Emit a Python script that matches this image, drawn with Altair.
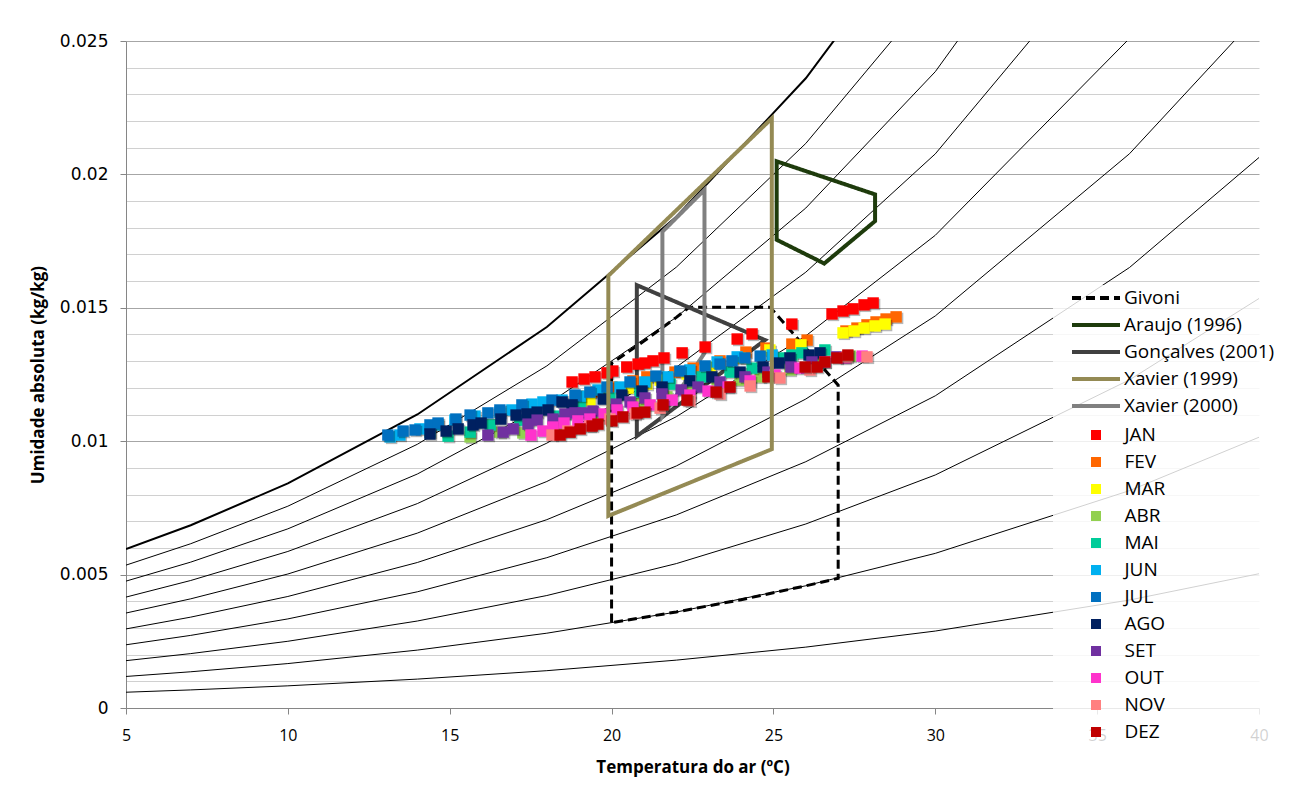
import altair as alt
import pandas as pd

# ---------------- relative-humidity curves ----------------
RH_T = [5, 7, 10, 14, 18, 22, 26, 30, 36, 40]
RH_100 = [0.005956, 0.006850, 0.008416, 0.011002, 0.014280, 0.018413, 0.023602, 0.030101, 0.042985, 0.054288]
RH_90 = [0.005355, 0.006158, 0.007564, 0.009884, 0.012822, 0.016523, 0.021161, 0.026960, 0.038422, 0.048436]
RH_80 = [0.004756, 0.005468, 0.006715, 0.008770, 0.011371, 0.014644, 0.018739, 0.023850, 0.033920, 0.042685]
RH_70 = [0.004157, 0.004779, 0.005867, 0.007661, 0.009927, 0.012776, 0.016335, 0.020769, 0.029479, 0.037032]
RH_60 = [0.003560, 0.004092, 0.005022, 0.006555, 0.008490, 0.010919, 0.013949, 0.017718, 0.025098, 0.031474]
RH_50 = [0.002964, 0.003406, 0.004180, 0.005453, 0.007059, 0.009072, 0.011581, 0.014695, 0.020775, 0.026008]
RH_40 = [0.002369, 0.002722, 0.003339, 0.004355, 0.005634, 0.007237, 0.009231, 0.011701, 0.016510, 0.020634]
RH_30 = [0.001775, 0.002039, 0.002501, 0.003260, 0.004216, 0.005412, 0.006897, 0.008734, 0.012300, 0.015349]
RH_20 = [0.001182, 0.001358, 0.001665, 0.002170, 0.002804, 0.003597, 0.004581, 0.005796, 0.008147, 0.010149]
RH_10 = [0.000591, 0.000678, 0.000831, 0.001083, 0.001399, 0.001794, 0.002282, 0.002884, 0.004047, 0.005033]

# ---------------- comfort zones ----------------
ZONE_NAMES = ["Givoni", "Araujo (1996)", "Gonçalves (2001)", "Xavier (1999)", "Xavier (2000)"]
ZONE_COLORS = ["#000000", "#1e3b0c", "#404040", "#948a54", "#808080"]
ZONE_DASH = [[9, 5], [1, 0], [1, 0], [1, 0], [1, 0]]

GIVONI_T = [20.0, 20.0, 21.0, 22.0, 22.4, 24.9, 27.0, 27.0, 26.0, 24.0, 22.0]
GIVONI_W = [0.0032, 0.01292, 0.01375, 0.01464, 0.01502, 0.01502, 0.0121, 0.00486, 0.00458, 0.00406, 0.00360]
ARAUJO_T = [25.10, 28.14, 28.14, 26.57, 25.10]
ARAUJO_W = [0.02049, 0.01925, 0.01825, 0.01666, 0.01755]
GONCALVES_T = [20.78, 24.74, 20.78]
GONCALVES_W = [0.01585, 0.01379, 0.01019]
XAVIER99_T = [19.9, 19.9, 24.95, 24.95]
XAVIER99_W = [0.0072, 0.0162, 0.0221, 0.0097]
XAVIER00_T = [21.57, 21.57, 22.87, 22.87]
XAVIER00_W = [0.01094, 0.01785, 0.01942, 0.0133]

# ---------------- monthly hourly points ----------------
MONTHS = ["JAN", "FEV", "MAR", "ABR", "MAI", "JUN", "JUL", "AGO", "SET", "OUT", "NOV", "DEZ"]
MONTH_COLORS = ["#ff0000", "#ff6600", "#ffff00", "#92d050", "#00cc99", "#00b0f0",
                "#0070c0", "#002060", "#7030a0", "#ff33cc", "#ff8080", "#c00000"]

JAN_T = [18.78, 19.15, 19.49, 19.86, 20.04, 20.47, 20.82, 21.03, 21.28, 21.62, 22.18, 22.89, 23.88, 24.34, 25.57, 26.81, 27.15, 27.46, 27.80, 28.08]
JAN_W = [0.01222, 0.01233, 0.01241, 0.01256, 0.01263, 0.01278, 0.01289, 0.01293, 0.01301, 0.01312, 0.01331, 0.01353, 0.01383, 0.01402, 0.01439, 0.01477, 0.01488, 0.01496, 0.01511, 0.01518]
FEV_T = [18.96, 19.52, 20.01, 20.66, 21.09, 21.96, 22.52, 23.35, 24.15, 24.77, 25.57, 26.04, 27.24, 27.58, 27.89, 28.17, 28.48, 28.79]
FEV_W = [0.01169, 0.01184, 0.01203, 0.01226, 0.01241, 0.01259, 0.01274, 0.01301, 0.01334, 0.01349, 0.01364, 0.01379, 0.01413, 0.01424, 0.01436, 0.01447, 0.01458, 0.01466]
MAR_T = [18.90, 19.33, 19.77, 20.51, 21.09, 21.50, 22.33, 23.04, 23.97, 24.89, 25.85, 27.15, 27.49, 27.80, 28.14, 28.45]
MAR_W = [0.01151, 0.01154, 0.01169, 0.01199, 0.01214, 0.01229, 0.01252, 0.01278, 0.01312, 0.01342, 0.01361, 0.01406, 0.01413, 0.01424, 0.01432, 0.01439]
ABR_T = [15.63, 16.55, 17.26, 18.41, 19.64, 20.88, 21.71, 22.42, 23.26, 23.97, 24.59, 25.51, 26.44, 27.37]
ABR_W = [0.01016, 0.01034, 0.01031, 0.01061, 0.01098, 0.01143, 0.01166, 0.01184, 0.01214, 0.01229, 0.01241, 0.01267, 0.01297, 0.01319]
MAI_T = [14.39, 14.95, 15.63, 16.25, 17.17, 18.25, 19.03, 19.95, 20.88, 21.81, 22.79, 23.66, 24.34, 25.20, 25.57, 25.88, 26.59]
MAI_W = [0.01034, 0.01019, 0.01034, 0.01061, 0.01079, 0.01094, 0.01143, 0.01162, 0.01184, 0.01214, 0.01241, 0.01259, 0.01274, 0.01312, 0.01323, 0.01331, 0.01342]
JUN_T = [13.16, 13.46, 14.08, 14.64, 15.16, 15.78, 16.55, 16.92, 17.54, 17.88, 18.47, 19.03, 19.58, 20.26, 21.03, 21.74, 22.42, 23.26, 23.88, 24.96]
JUN_W = [0.01016, 0.01023, 0.01046, 0.01061, 0.01079, 0.01094, 0.01109, 0.01117, 0.01139, 0.01147, 0.01154, 0.01169, 0.01192, 0.01203, 0.01222, 0.01241, 0.01267, 0.01297, 0.01316, 0.01323]
JUL_T = [13.09, 13.56, 13.93, 14.39, 14.64, 15.19, 15.63, 16.18, 16.55, 17.23, 18.16, 18.87, 19.33, 19.86, 20.57, 21.37, 22.11, 22.89, 23.35, 23.72, 24.12, 24.59]
JUL_W = [0.01023, 0.01038, 0.01042, 0.01061, 0.01068, 0.01083, 0.01098, 0.01106, 0.01117, 0.01136, 0.01154, 0.01173, 0.01184, 0.01203, 0.01222, 0.01244, 0.01263, 0.01282, 0.01289, 0.01301, 0.01312, 0.01319]
AGO_T = [14.39, 14.89, 15.26, 15.72, 15.97, 16.58, 17.05, 17.39, 17.70, 18.04, 18.47, 18.78, 19.74, 20.32, 20.94, 21.56, 22.42, 23.10, 23.97, 24.68, 25.17, 25.51, 26.10, 26.44]
AGO_W = [0.01027, 0.01038, 0.01046, 0.01061, 0.01068, 0.01083, 0.01098, 0.01102, 0.01109, 0.01117, 0.01147, 0.01136, 0.01158, 0.01173, 0.01188, 0.01203, 0.01226, 0.01241, 0.01259, 0.01278, 0.01293, 0.01312, 0.01323, 0.01331]
SET_T = [16.18, 16.65, 16.96, 17.42, 17.70, 18.19, 18.56, 18.87, 19.12, 19.43, 20.14, 20.57, 21.03, 21.56, 22.15, 22.67, 23.35, 24.12, 24.83, 25.54, 26.19, 26.96]
SET_W = [0.01023, 0.01034, 0.01046, 0.01064, 0.01079, 0.01083, 0.01102, 0.01106, 0.01106, 0.01113, 0.01139, 0.01147, 0.01162, 0.01177, 0.01192, 0.01203, 0.01222, 0.01241, 0.01259, 0.01278, 0.01297, 0.01316]
OUT_T = [17.51, 17.88, 18.19, 18.53, 18.96, 19.33, 19.77, 20.17, 20.66, 21.19, 21.87, 22.42, 22.98, 23.60, 24.28, 25.05, 25.82, 26.59, 27.21, 27.74]
OUT_W = [0.01023, 0.01038, 0.01053, 0.01068, 0.01076, 0.01083, 0.01102, 0.01117, 0.01128, 0.01136, 0.01154, 0.01173, 0.01188, 0.01203, 0.01226, 0.01248, 0.01274, 0.01297, 0.01312, 0.01319]
NOV_T = [18.16, 18.65, 19.33, 19.95, 20.72, 21.50, 22.42, 23.35, 24.28, 25.20, 26.13, 27.27, 27.89]
NOV_W = [0.01023, 0.01038, 0.01057, 0.01083, 0.01102, 0.01124, 0.01151, 0.01177, 0.01207, 0.01237, 0.01267, 0.01316, 0.01316]
DEZ_T = [18.41, 18.72, 19.03, 19.40, 19.58, 20.01, 20.35, 20.79, 21.03, 21.59, 22.33, 23.23, 23.66, 24.83, 25.98, 26.35, 26.59, 26.96, 27.30]
DEZ_W = [0.01023, 0.01034, 0.01046, 0.01057, 0.01064, 0.01076, 0.01091, 0.01106, 0.01109, 0.01136, 0.01154, 0.01184, 0.01203, 0.01241, 0.01278, 0.01278, 0.01297, 0.01312, 0.01323]

X_TICKS = [5, 10, 15, 20, 25, 30, 35, 40]
Y_TICKS = [0.0, 0.001, 0.002, 0.003, 0.004, 0.005, 0.006, 0.007, 0.008, 0.009, 0.010,
           0.011, 0.012, 0.013, 0.014, 0.015, 0.016, 0.017, 0.018, 0.019, 0.020,
           0.021, 0.022, 0.023, 0.024, 0.025]

# ---------------- tables ----------------
rh_sets = [("10", RH_10), ("20", RH_20), ("30", RH_30), ("40", RH_40), ("50", RH_50),
           ("60", RH_60), ("70", RH_70), ("80", RH_80), ("90", RH_90)]
rh_rows = []
for name, ws in rh_sets:
    for k, (t, w) in enumerate(zip(RH_T, ws)):
        rh_rows.append({"curve": name, "i": k, "T": t, "W": w})
rh_df = pd.DataFrame(rh_rows)
rh_top_df = pd.DataFrame({"curve": "100", "i": list(range(len(RH_T))), "T": RH_T, "W": RH_100})

zone_data = {
    "Givoni": (GIVONI_T, GIVONI_W),
    "Araujo (1996)": (ARAUJO_T, ARAUJO_W),
    "Gonçalves (2001)": (GONCALVES_T, GONCALVES_W),
    "Xavier (1999)": (XAVIER99_T, XAVIER99_W),
    "Xavier (2000)": (XAVIER00_T, XAVIER00_W),
}


def zone_df(name):
    ts, ws = zone_data[name]
    return pd.DataFrame({"series": name, "i": list(range(len(ts))), "T": ts, "W": ws})


month_data = {
    "JAN": (JAN_T, JAN_W), "FEV": (FEV_T, FEV_W), "MAR": (MAR_T, MAR_W), "ABR": (ABR_T, ABR_W),
    "MAI": (MAI_T, MAI_W), "JUN": (JUN_T, JUN_W), "JUL": (JUL_T, JUL_W), "AGO": (AGO_T, AGO_W),
    "SET": (SET_T, SET_W), "OUT": (OUT_T, OUT_W), "NOV": (NOV_T, NOV_W), "DEZ": (DEZ_T, DEZ_W),
}

# ---------------- encodings ----------------
MAJOR = "abs(datum.value * 200 - round(datum.value * 200)) < 0.01"

x_enc = alt.X("T:Q", scale=alt.Scale(domain=[5, 40], nice=False, zero=False),
              axis=alt.Axis(values=X_TICKS, title="Temperatura do ar (ºC)", grid=False,
                            tickSize=6, tickColor="#868686", domainColor="#868686",
                            labelFont="Open Sans", labelFontSize=16, labelColor="#000000",
                            labelPadding=13, labelFlush=False,
                            titleFont="Open Sans", titleFontSize=17, titleFontWeight="bold",
                            titleColor="#000000", titlePadding=16))
y_enc = alt.Y("W:Q", scale=alt.Scale(domain=[0, 0.025], nice=False, zero=True),
              axis=alt.Axis(values=Y_TICKS, title="Umidade absoluta (kg/kg)", grid=True,
                            gridColor={"condition": {"test": MAJOR, "value": "#a6a6a6"}, "value": "#d0d0d0"},
                            gridWidth=1,
                            tickColor={"condition": {"test": MAJOR, "value": "#868686"}, "value": "transparent"},
                            tickSize=6, domainColor="#868686",
                            labelExpr=MAJOR + " ? format(datum.value, '~g') : ''",
                            labelFont="DejaVu Sans", labelFontSize=17, labelColor="#000000",
                            labelPadding=12, labelOverlap=False,
                            titleFont="Open Sans", titleFontSize=17, titleFontWeight="bold",
                            titleColor="#000000", titlePadding=12))

legend_lines = alt.Legend(title=None, orient="none", legendX=927, legendY=244,
                          fillColor="rgba(255,255,255,0.82)", padding=5, rowPadding=8,
                          clipHeight=16, symbolType="stroke", symbolSize=2304,
                          symbolStrokeWidth=4, symbolOffset=12, labelOffset=2,
                          labelFont="Open Sans", labelFontSize=19, labelColor="#000000",
                          labelLimit=400)
# blank braille cells widen the month box to about the width of the line box
legend_months = alt.Legend(title=None, orient="none", legendX=927, legendY=381,
                           fillColor="rgba(255,255,255,0.82)", padding=5, rowPadding=8,
                           clipHeight=16, symbolType="square", symbolSize=100,
                           symbolStrokeWidth=0, symbolOffset=28.5, labelOffset=19,
                           labelFont="Open Sans", labelFontSize=19, labelColor="#000000",
                           labelLimit=400,
                           labelExpr="datum.label + '\u2800\u2800\u2800\u2800\u2800\u2800\u2800\u2800'")

stroke_enc = alt.Stroke("series:N", scale=alt.Scale(domain=ZONE_NAMES, range=ZONE_COLORS),
                        legend=legend_lines)
dash_enc = alt.StrokeDash("series:N", scale=alt.Scale(domain=ZONE_NAMES, range=ZONE_DASH),
                          legend=legend_lines)
fill_enc = alt.Fill("month:N", scale=alt.Scale(domain=MONTHS, range=MONTH_COLORS),
                    legend=legend_months)

layers = []
layers.append(alt.Chart(rh_df).mark_line(color="#000000", strokeWidth=1, clip=True).encode(
    x=x_enc, y=y_enc, detail="curve:N", order="i:Q"))
layers.append(alt.Chart(rh_top_df).mark_line(color="#000000", strokeWidth=2, clip=True).encode(
    x=x_enc, y=y_enc, detail="curve:N", order="i:Q"))

for name in ["Givoni", "Araujo (1996)", "Gonçalves (2001)", "Xavier (2000)"]:
    sw = 3 if name == "Givoni" else 4
    layers.append(alt.Chart(zone_df(name)).mark_line(strokeWidth=sw, interpolate="linear-closed").encode(
        x=x_enc, y=y_enc, stroke=stroke_enc, strokeDash=dash_enc, order="i:Q"))

for m in MONTHS:
    ts, ws = month_data[m]
    mdf = pd.DataFrame({"month": m, "T": ts, "W": ws})
    layers.append(alt.Chart(mdf).mark_square(size=130, color="#000000", opacity=0.28,
                                             xOffset=1.5, yOffset=1.5).encode(x=x_enc, y=y_enc))
    layers.append(alt.Chart(mdf).mark_square(size=130, opacity=1, strokeWidth=0).encode(
        x=x_enc, y=y_enc, fill=fill_enc))

layers.append(alt.Chart(zone_df("Xavier (1999)")).mark_line(strokeWidth=4, interpolate="linear-closed").encode(
    x=x_enc, y=y_enc, stroke=stroke_enc, strokeDash=dash_enc, order="i:Q"))

chart = alt.layer(*layers).properties(
    width=1133, height=667, autosize="none",
    padding={"left": 118, "top": 33, "right": 23, "bottom": 70},
    background="#ffffff",
).configure_view(strokeWidth=0)

chart.save("out.html", embed_options={"renderer": "svg", "actions": False})
